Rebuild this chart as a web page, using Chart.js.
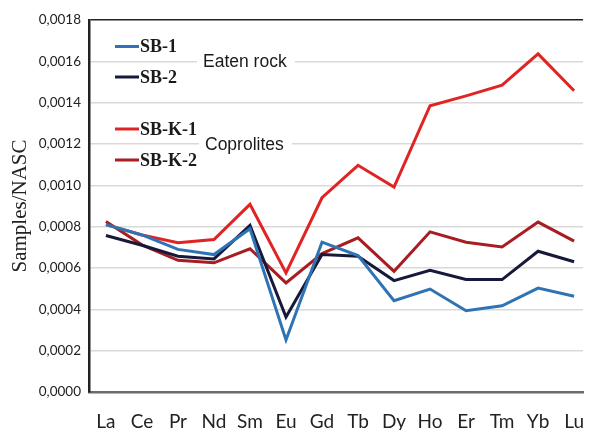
<!DOCTYPE html>
<html>
<head>
<meta charset="utf-8">
<script src="https://cdn.jsdelivr.net/npm/chart.js@4.4.1/dist/chart.umd.min.js"></script>
<style>
html,body{margin:0;padding:0;background:#fff;}
#wrap{width:594px;height:430px;position:relative;}
</style>
</head>
<body>
<div id="wrap"><canvas id="c" width="594" height="430"></canvas></div>
<script>
const categories = ["La","Ce","Pr","Nd","Sm","Eu","Gd","Tb","Dy","Ho","Er","Tm","Yb","Lu"];
const sb1  = [0.00081,0.00076,0.00069,0.000665,0.00079,0.000252,0.000725,0.00066,0.000442,0.000498,0.000393,0.000417,0.000503,0.000463];
const sb2  = [0.000757,0.00071,0.000657,0.000644,0.000806,0.000363,0.000665,0.000657,0.000539,0.000589,0.000544,0.000544,0.000681,0.00063];
const sbk1 = [0.00081,0.00076,0.000722,0.000738,0.000908,0.000576,0.00094,0.001097,0.000992,0.001385,0.001433,0.001485,0.001636,0.001458];
const sbk2 = [0.000825,0.000712,0.000637,0.000625,0.000693,0.000528,0.00067,0.000746,0.000584,0.000775,0.000725,0.000702,0.000822,0.00073];
const seriesNames = ["SB-1","SB-2","SB-K-1","SB-K-2"];
const groupLabels = ["Eaten rock","Coprolites"];
const yTicks = [0,0.0002,0.0004,0.0006,0.0008,0.0010,0.0012,0.0014,0.0016,0.0018];

const colors = ["#2e74b5","#17193a","#e02424","#a81d22"];
const seriesData = [sb1, sb2, sbk1, sbk2];

const datasets = seriesData.map((arr, k) => ({
  label: seriesNames[k],
  data: arr.map((v, i) => ({x: i, y: v})),
  borderColor: colors[k],
  backgroundColor: colors[k],
  borderWidth: 3,
  pointRadius: 0,
  tension: 0,
  fill: false
}));

const legendPlugin = {
  id: 'customLegend',
  afterDraw(chart) {
    const ctx = chart.ctx;
    ctx.save();
    const items = [
      {y: 46.5, k: 0}, {y: 77, k: 1}, {y: 129, k: 2}, {y: 160, k: 3}
    ];
    ctx.textBaseline = 'middle';
    ctx.textAlign = 'left';
    items.forEach(it => {
      ctx.strokeStyle = colors[it.k];
      ctx.lineWidth = 3;
      ctx.beginPath();
      ctx.moveTo(115, it.y);
      ctx.lineTo(139, it.y);
      ctx.stroke();
      ctx.fillStyle = '#1a1a1a';
      ctx.font = 'bold 18px "Liberation Serif"';
      ctx.fillText(seriesNames[it.k], 140, it.y + 1);
    });
    const groups = [{y: 61, x: 203, t: groupLabels[0]}, {y: 144, x: 205, t: groupLabels[1]}];
    ctx.font = '17.5px "Liberation Sans"';
    groups.forEach(g => {
      const w = ctx.measureText(g.t).width;
      ctx.fillStyle = '#fff';
      ctx.fillRect(g.x - 6, g.y - 11, w + 14, 22);
      ctx.fillStyle = '#1a1a1a';
      ctx.fillText(g.t, g.x, g.y + 1);
    });
    ctx.restore();
  }
};

new Chart(document.getElementById('c'), {
  type: 'line',
  data: { datasets },
  plugins: [legendPlugin],
  options: {
    responsive: false,
    animation: false,
    devicePixelRatio: 1,
    layout: { padding: { top: 20, right: 0, bottom: 0, left: 0 } },
    plugins: { legend: { display: false }, tooltip: { enabled: false } },
    scales: {
      x: {
        type: 'linear',
        min: -0.47,
        max: 13.25,
        afterBuildTicks(scale) { scale.ticks = categories.map((_, i) => ({value: i})); },
        afterFit(scale) { scale.height = 38; },
        ticks: {
          autoSkip: false,
          maxRotation: 0,
          padding: 10,
          color: '#222',
          font: { family: 'Lato', size: 19 },
          callback: (v) => categories[Math.round(v)] ?? ''
        },
        grid: { display: false },
        border: { display: true, color: '#6b6b6b', width: 2.5 }
      },
      y: {
        min: 0,
        max: 0.0018,
        afterBuildTicks(scale) { scale.ticks = yTicks.map(v => ({value: v})); },
        afterFit(scale) { scale.width = 89; },
        ticks: {
          padding: 8,
          color: '#222',
          font: { family: 'Lato', size: 13.5 },
          callback: (v) => v.toFixed(4).replace('.', ',')
        },
        grid: {
          drawTicks: false,
          lineWidth: 1.5,
          color: (c) => (c.tick && c.tick.value > 0.00179) ? '#222' : '#d9d9d9'
        },
        border: { display: true, color: '#222', width: 2.5 },
        title: {
          display: true,
          text: 'Samples/NASC',
          color: '#222',
          font: { family: 'Liberation Serif', size: 21 },
          padding: { top: 8, bottom: 0 }
        }
      }
    }
  }
});
</script>
</body>
</html>
